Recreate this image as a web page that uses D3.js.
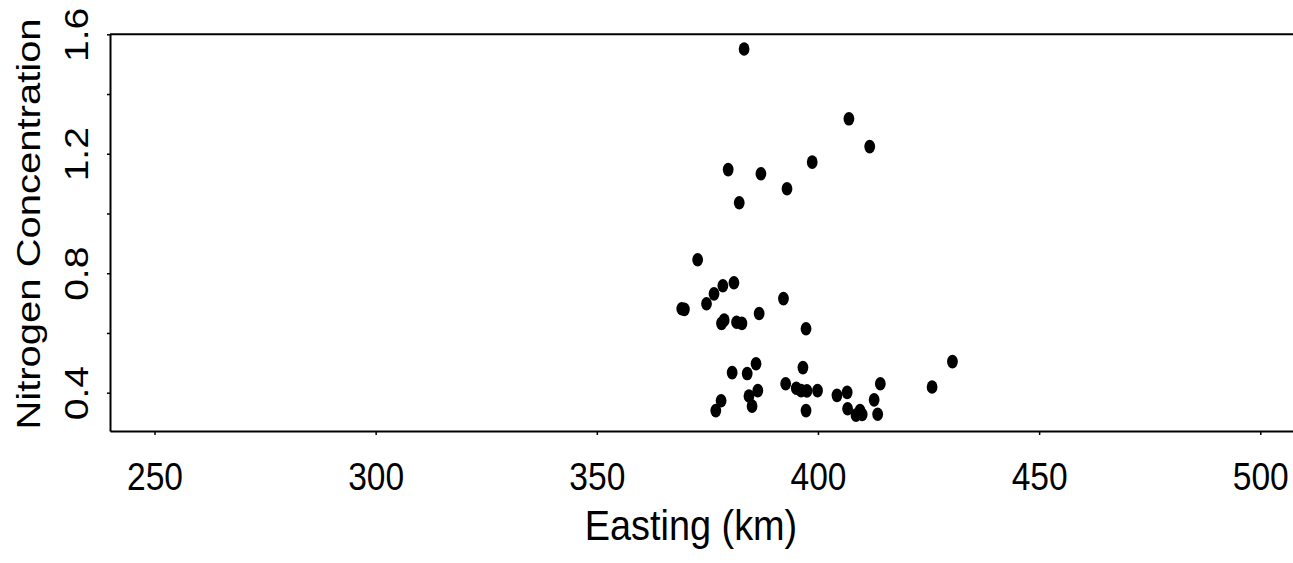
<!DOCTYPE html>
<html>
<head>
<meta charset="utf-8">
<script src="https://cdn.jsdelivr.net/npm/d3@7"></script>
<style>
  html, body { margin: 0; padding: 0; background: #fff; }
  svg { display: block; }
</style>
</head>
<body>
<svg id="chart" width="1293" height="563"></svg>
<script>
// Sample sites: easting (km) and measured nitrogen concentration
const easting = [
  383.3, 407.0, 411.7, 398.7, 379.7, 387.1, 393.0, 382.2,
  372.8, 381.0, 378.5, 376.5, 374.8, 369.2, 369.8, 392.2,
  386.7, 378.8, 378.2, 381.6, 382.8, 397.3, 386.0, 380.6,
  384.0, 396.6, 392.7, 395.1, 396.2, 397.5, 399.9, 386.4,
  384.4, 385.1, 378.1, 376.9, 397.3, 404.3, 406.6, 414.1,
  412.7, 406.7, 408.6, 409.5, 410.0, 413.5, 425.8, 430.4
];
const nitrogen = [
  1.551, 1.317, 1.224, 1.172, 1.147, 1.133, 1.083, 1.036,
  0.845, 0.768, 0.758, 0.731, 0.698, 0.681, 0.679, 0.715,
  0.665, 0.643, 0.632, 0.636, 0.632, 0.614, 0.497, 0.467,
  0.464, 0.484, 0.430, 0.415, 0.407, 0.406, 0.407, 0.407,
  0.389, 0.355, 0.373, 0.340, 0.340, 0.391, 0.401, 0.430,
  0.376, 0.346, 0.325, 0.340, 0.327, 0.328, 0.419, 0.504
];

const xTicks = [250, 300, 350, 400, 450, 500];
const yTicks = [0.4, 0.6, 0.8, 1.0, 1.2, 1.4, 1.6];
const yLabelled = [0.4, 0.8, 1.2, 1.6];

const xDomain = [239.94, 507.85];
const yDomain = [0.2717, 1.6];

const margin = { left: 110, top: 34.3, right: -2, bottom: 132 };
const W = 1293, H = 563;
const plotW = W - margin.left - margin.right;
const plotH = H - margin.top - margin.bottom;

const FONT = "'Liberation Sans', Arial, Helvetica, sans-serif";

const svg = d3.select("#chart");
const g = svg.append("g").attr("transform", `translate(${margin.left},${margin.top})`);

const x = d3.scaleLinear().domain(xDomain).range([0, plotW]);
const y = d3.scaleLinear().domain(yDomain).range([plotH, 0]);

// plot frame (top and right edges)
g.append("path")
  .attr("d", `M0,0H${plotW}V${plotH}`)
  .attr("fill", "none")
  .attr("stroke", "#000")
  .attr("stroke-width", 2);

// x axis; labels are set in a condensed face
const xAxis = g.append("g")
  .attr("transform", `translate(0,${plotH})`)
  .call(d3.axisBottom(x).tickValues(xTicks).tickSize(4).tickSizeOuter(0).tickFormat(d3.format("d")));
xAxis.select(".domain").attr("stroke-width", 2);
xAxis.selectAll(".tick line").attr("stroke-width", 1.5);
xAxis.selectAll(".tick text")
  .attr("y", null).attr("dy", null)
  .attr("transform", "translate(0,59) scale(0.85,1)")
  .attr("font-family", FONT)
  .attr("font-size", 39.5)
  .attr("fill", "#000");

// y axis
const yAxis = g.append("g")
  .call(d3.axisLeft(y).tickValues(yTicks).tickSize(3).tickSizeOuter(0)
    .tickFormat(d => yLabelled.some(v => Math.abs(v - d) < 1e-9) ? d3.format(".1f")(d) : ""));
yAxis.select(".domain").attr("stroke-width", 2);
yAxis.selectAll(".tick line").attr("stroke-width", 1.5);
yAxis.selectAll(".tick text")
  .attr("x", null).attr("dy", null)
  .attr("text-anchor", "middle")
  .attr("transform", "translate(-22,0) rotate(-90) scale(1,0.87)")
  .attr("font-family", FONT)
  .attr("font-size", 39)
  .attr("fill", "#000");

// points
g.append("g").selectAll("ellipse")
  .data(easting.map((e, i) => [e, nitrogen[i]]))
  .join("ellipse")
  .attr("cx", d => x(d[0]))
  .attr("cy", d => y(d[1]))
  .attr("rx", 5.4)
  .attr("ry", 6.8)
  .attr("fill", "#000");

// axis titles
svg.append("text")
  .attr("text-anchor", "middle")
  .attr("transform", "translate(691,540) scale(0.88,1)")
  .attr("font-family", FONT)
  .attr("font-size", 43)
  .attr("fill", "#000")
  .text("Easting (km)");

svg.append("text")
  .attr("text-anchor", "middle")
  .attr("transform", "translate(39.5,224) rotate(-90) scale(1,0.85)")
  .attr("font-family", FONT)
  .attr("font-size", 40)
  .attr("fill", "#000")
  .text("Nitrogen Concentration");
</script>
</body>
</html>
